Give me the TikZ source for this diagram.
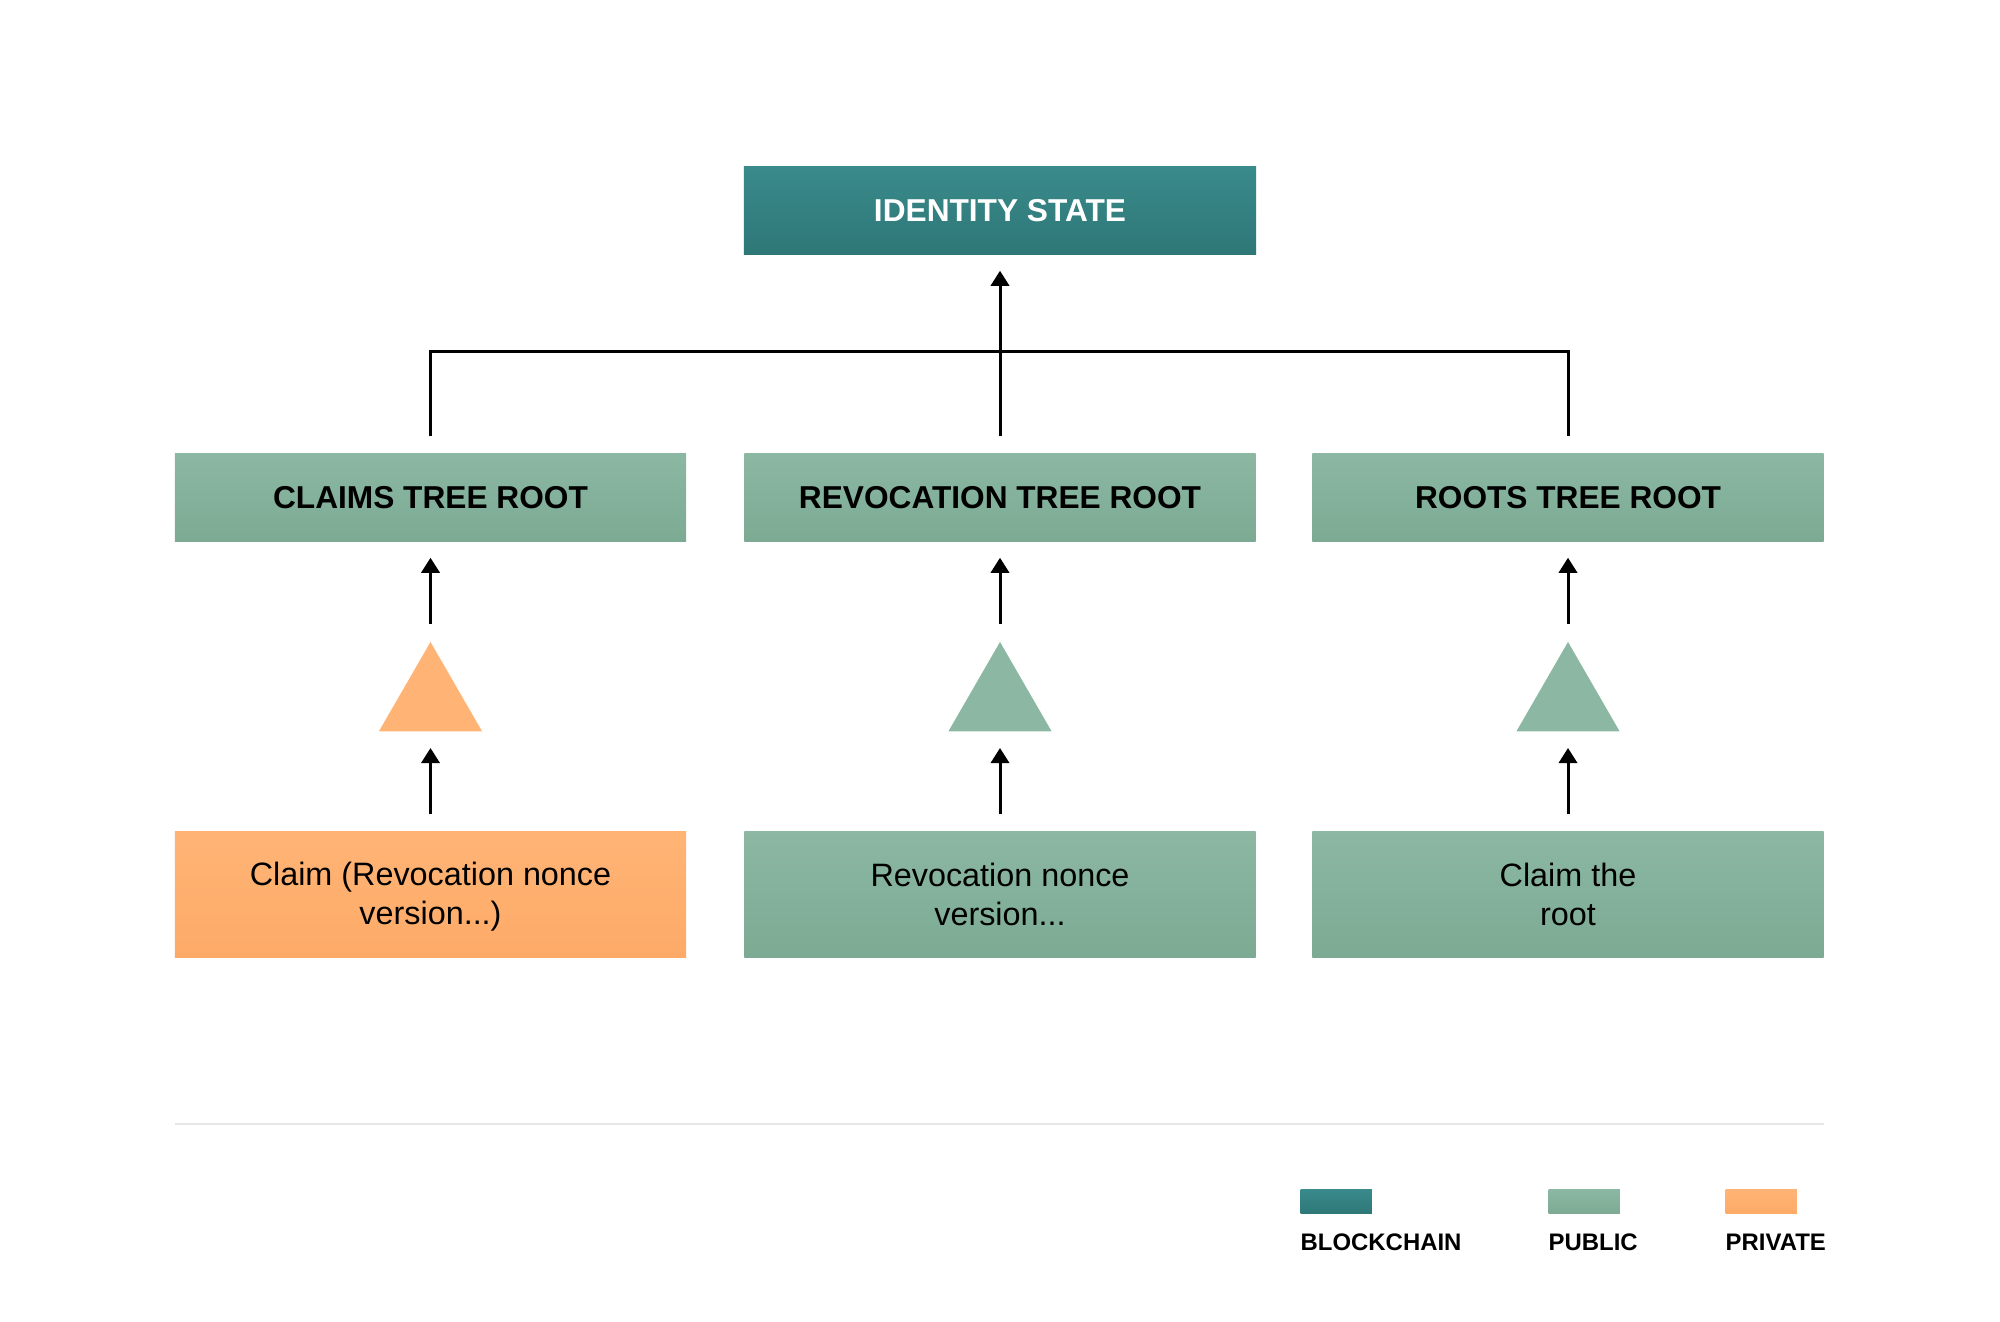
\documentclass[tikz,border=0pt]{standalone}
\usepackage{xcolor}
\usepackage{fontspec}
\setmainfont{Liberation Sans}
\usepackage{tikz}
\usetikzlibrary{arrows.meta,positioning,calc,shapes.geometric}

\definecolor{chainteal}{HTML}{3A8A8B}
\definecolor{chaintealdark}{HTML}{2E7777}
\definecolor{pubgreen}{HTML}{8CB8A3}
\definecolor{pubgreendark}{HTML}{7CAA93}
\definecolor{privorange}{HTML}{FFB475}
\definecolor{privorangedark}{HTML}{FDAA68}
\definecolor{rulegray}{HTML}{E6E6E6}

\begin{document}
\begin{tikzpicture}[x=0.01cm,y=-0.01cm,>={Triangle[length=4.3pt,width=5.2pt]},
  box/.style={rectangle,inner sep=0pt,minimum width=5.11cm,text=black},
  chainbox/.style={box,top color=chainteal,bottom color=chaintealdark,text=white,minimum height=0.87cm},
  pubbox/.style={box,top color=pubgreen,bottom color=pubgreendark},
  privbox/.style={box,top color=privorange,bottom color=privorangedark},
  rootbox/.style={minimum height=0.87cm,font=\fontsize{9}{11}\selectfont\bfseries},
  leafbox/.style={minimum height=1.25cm,align=center,font=\fontsize{9.2}{11.3}\selectfont},
  tree/.style={regular polygon,regular polygon sides=3,inner sep=0pt,minimum size=1.19cm},
  wire/.style={line width=0.85pt,black},
  arr/.style={wire,->,shorten <=0.17cm,shorten >=0.16cm},
  swatch/.style={rectangle,inner sep=0pt,minimum width=0.71cm,minimum height=0.24cm},
  legend/.style={font=\fontsize{6.8}{8}\selectfont\bfseries,inner sep=0pt}]
  \useasboundingbox[fill=white] (0,0) rectangle (2000,1321);
  % top of the tree
  \node[chainbox,minimum width=5.12cm] (state) at (1000,210.5) {\fontsize{9}{11}\selectfont\bfseries IDENTITY STATE};
  % the three roots
  \node[pubbox,rootbox] (claimsroot) at (430.5,497.5) {CLAIMS TREE ROOT};
  \node[pubbox,rootbox] (revroot) at (1000,497.5) {REVOCATION TREE ROOT};
  \node[pubbox,rootbox] (rootsroot) at (1568,497.5) {ROOTS TREE ROOT};
  % trees
  \node[tree,fill=privorange] (claimstree) at (430.5,701.5) {};
  \node[tree,fill=pubgreen] (revtree) at (1000,701.5) {};
  \node[tree,fill=pubgreen] (rootstree) at (1568,701.5) {};
  % leaves
  \node[privbox,leafbox] (claimleaf) at (430.5,894.5) {\strut Claim (Revocation nonce\\version...)};
  \node[pubbox,leafbox] (revleaf) at (1000,894.5) {Revocation nonce\\version...};
  \node[pubbox,leafbox] (rootsleaf) at (1568,894.5) {Claim the\\root};
  % arrows up
  \draw[arr] (claimleaf) -- (claimstree);
  \draw[arr] (revleaf) -- (revtree);
  \draw[arr] (rootsleaf) -- (rootstree);
  \draw[arr] (claimstree) -- (claimsroot);
  \draw[arr] (revtree) -- (revroot);
  \draw[arr] (rootstree) -- (rootsroot);
  % joining bar
  \draw[wire] ([yshift=0.17cm]claimsroot.north) -- ++(0,-85) -| ([yshift=0.17cm]rootsroot.north);
  \draw[arr] (revroot.north) -- (state.south);
  % legend
  \draw[rulegray,line width=0.4pt] (175,1124) -- (1824,1124);
  \node[swatch,top color=chainteal,bottom color=chaintealdark,anchor=north west] (chainkey) at (1300,1189) {};
  \node[swatch,top color=pubgreen,bottom color=pubgreendark,anchor=north west] (pubkey) at (1548,1189) {};
  \node[swatch,top color=privorange,bottom color=privorangedark,anchor=north west] (privkey) at (1725,1189) {};
  \node[legend,anchor=north west] (chainlbl) at (1300,1233) {BLOCKCHAIN};
  \node[legend,anchor=north west] (publbl) at (1548,1233) {PUBLIC};
  \node[legend,anchor=north west] (privlbl) at (1725,1233) {PRIVATE};
\end{tikzpicture}
\end{document}
